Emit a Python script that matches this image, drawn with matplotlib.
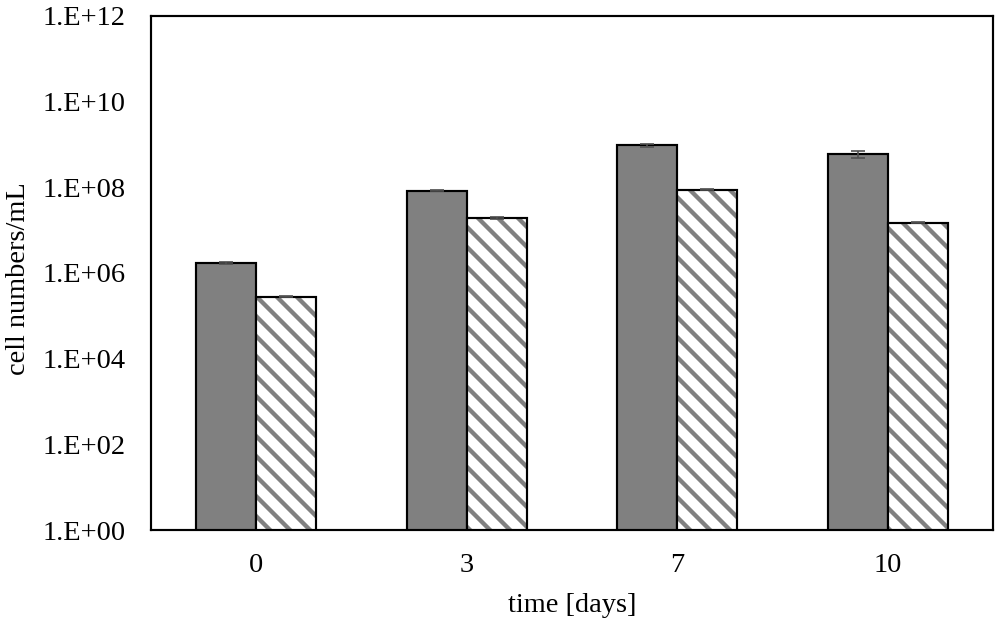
import matplotlib
matplotlib.use("Agg")
import matplotlib.pyplot as plt
import numpy as np
from matplotlib.ticker import FixedLocator, FuncFormatter, NullLocator

days = ["0", "3", "7", "10"]
series_a = [1.75e6, 8.3e7, 9.6e8, 6.0e8]
series_a_err = [1.0e5, 2.0e6, 9.0e7, 1.2e8]
series_b = [2.8e5, 1.9e7, 8.7e7, 1.5e7]
series_b_err = [5.0e3, 1.0e6, 2.0e6, 3.0e5]
y_ticks = [1e0, 1e2, 1e4, 1e6, 1e8, 1e10, 1e12]

DPI = 120
plt.rcParams['font.family'] = ['Liberation Serif', 'DejaVu Serif']
plt.rcParams['hatch.linewidth'] = 2.6

fig = plt.figure(figsize=(1000 / DPI, 627 / DPI), dpi=DPI)
ax = fig.add_axes([0.151, 0.1547, 0.842, 0.8198])

x = np.arange(len(days))
w = 0.2857

ax.bar(x - w / 2, series_a, width=w, color='#808080', edgecolor='black',
       linewidth=1.3, zorder=2)
ax.errorbar(x - w / 2, series_a, yerr=series_a_err, fmt='none',
            ecolor='#505050', elinewidth=1.0, capsize=4, capthick=1.0, zorder=3)

ax.bar(x + w / 2, series_b, width=w, color='white', edgecolor='#808080',
       hatch='\\\\', linewidth=0, zorder=2)
ax.bar(x + w / 2, series_b, width=w, color='none', edgecolor='black',
       linewidth=1.3, zorder=2.5)
ax.errorbar(x + w / 2, series_b, yerr=series_b_err, fmt='none',
            ecolor='#505050', elinewidth=1.0, capsize=4, capthick=1.0, zorder=3)

ax.set_yscale('log')
ax.set_ylim(1e0, 1e12)
ax.set_xlim(-0.5, len(days) - 0.5)
ax.yaxis.set_major_locator(FixedLocator(y_ticks))
ax.yaxis.set_minor_locator(NullLocator())
ax.yaxis.set_major_formatter(FuncFormatter(lambda v, p: "1.E+%02d" % int(round(np.log10(v)))))
ax.set_xticks(x)
ax.set_xticklabels(days)

ax.tick_params(axis='both', length=0, labelsize=17, colors='black')
ax.tick_params(axis='y', pad=15)
ax.tick_params(axis='x', pad=14)
for s in ax.spines.values():
    s.set_linewidth(1.3)
    s.set_color('black')

ax.set_xlabel('time [days]', fontsize=17, labelpad=9)
ax.set_ylabel('cell numbers/mL', fontsize=17)
ax.yaxis.set_label_coords(-0.143, 0.49)

fig.savefig('out.png', dpi=DPI)
